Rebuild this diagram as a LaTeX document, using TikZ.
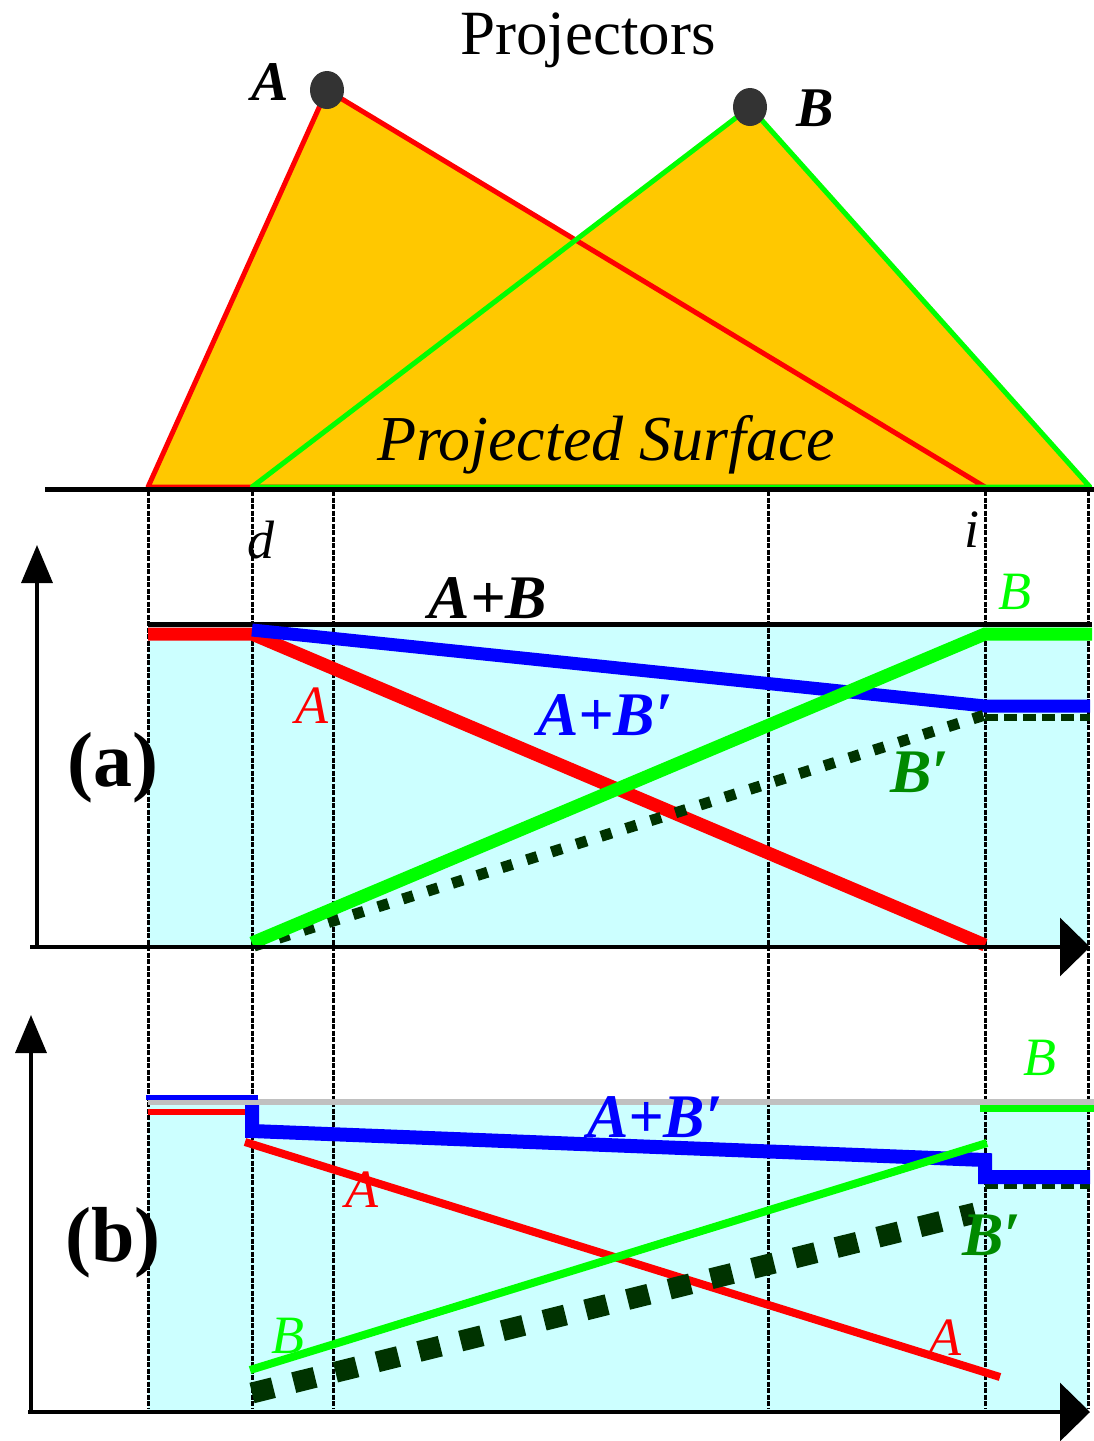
\documentclass[tikz,border=0pt]{standalone}
\usepackage{fontspec}
\setmainfont{Liberation Serif}
\usepackage{tikz}
\usetikzlibrary{arrows.meta,calc}
\definecolor{surforange}{HTML}{FFC800}
\definecolor{lightcyan}{HTML}{CCFFFF}
\definecolor{pgreen}{HTML}{00FF00}
\definecolor{dkgreen}{HTML}{003300}
\definecolor{lblgreen}{HTML}{008A00}
\definecolor{dotgray}{HTML}{333333}
\definecolor{sumgray}{HTML}{C0C0C0}
\newcommand{\fs}[1]{\fontsize{#1}{#1}\selectfont}

\begin{document}
\begin{tikzpicture}[
  x=1pt,y=-1pt,
  lbl/.style={inner sep=0pt,font=\fs{54}\itshape},
  blbl/.style={inner sep=0pt,font=\fs{62}\bfseries\itshape},
  vline/.style={black,line width=3pt,dash pattern=on 5pt off 1.5pt},
  yaxis/.style={line width=3.5pt,-{Triangle[length=38pt,width=31pt]}},
  xaxis/.style={line width=3.5pt,-{Triangle[length=30pt,width=58pt]}},
  edgeA/.style={red,line width=5pt,line join=round},
  edgeB/.style={pgreen,line width=5pt,line join=round},
  dotsA/.style={dkgreen,line width=11pt,dash pattern=on 11pt off 15pt},
  dotsB/.style={dkgreen,line width=21pt,dash pattern=on 22pt off 21pt},
  tail/.style={dkgreen,line width=7pt,dash pattern=on 13pt off 6pt}
]
\useasboundingbox (0,0) rectangle (1094,1441);
% projectors and the surface
\coordinate (pA) at (327,90);
\coordinate (pB) at (750,107);
\coordinate (aL) at (148,487);
\coordinate (aR) at (985,487);
\coordinate (bL) at (252,487);
\coordinate (bR) at (1090,487);
\fill[surforange] (pA)--(aL)--(aR)--cycle;
\fill[surforange] (pB)--(bL)--(bR)--cycle;
\draw[edgeA] (pA)--(aL)--(aR)--cycle;
\draw[edgeB] (pB)--(bL)--(bR)--cycle;
\draw[line width=5pt] (45,489)--(1094,489);
\fill[dotgray] (pA) ellipse (17pt and 19pt);
\fill[dotgray] (pB) ellipse (17pt and 19pt);
\node[inner sep=0pt,font=\fs{63}] (title) at (588,40) {Projectors};
\node[blbl,font=\fs{56}\bfseries\itshape] (nameA) at (270,82) {A};
\node[blbl,font=\fs{56}\bfseries\itshape] (nameB) at (815,108) {B};
\node[lbl,font=\fs{64}\itshape] (surf) at (606,445) {Projected Surface};

% panel backgrounds
\fill[lightcyan] (148,626) rectangle (1088,945);
\fill[lightcyan] (148,1104) rectangle (1088,1411);

% guide lines
\foreach \gx in {148,252,333,768,985,1088}
  \draw[vline] (\gx,491)--(\gx,1408);
\node[lbl] (d) at (261,540) {d};
\node[lbl] (i) at (972,530) {i};

% panel (a)
\draw[line width=5pt] (148,624)--(1092,624);
\draw[red,line width=13pt] (148,634)--(252,634)--(985,945);
\draw[blue,line width=13pt] (252,630)--(985,706)--(1090,706);
\draw[tail] (985,717)--(1090,717);
\draw[dotsA] (254,946)--(985,715);
\draw[pgreen,line width=13pt] (252,943)--(985,634)--(1092,634);
\draw[yaxis] (37,947)--(37,545);
\draw[xaxis] (30,947)--(1090,947);
\node[blbl] (sumA) at (488,598) {A+B};
\node[lbl,pgreen] (lB1) at (1015,592) {B};
\node[lbl,red] (lA1) at (312,706) {A};
\node[blbl,blue] (lAB1) at (605,715) {A+B\char"2032};
\node[blbl,lblgreen] (lBp1) at (920,772) {B\char"2032};
\node[inner sep=0pt,font=\fs{78}\bfseries] (pa) at (113,768) {(a)};

% panel (b)
\draw[sumgray,line width=6pt] (148,1102)--(1094,1102);
\draw[blue,line width=5pt] (146,1097)--(258,1097);
\draw[red,line width=6pt] (148,1112)--(245,1112);
\draw[red,line width=8pt] (245,1142)--(1000,1377);
\draw[tail] (985,1185)--(1090,1185);
\draw[blue,line width=14pt,line join=miter] (252,1105)--(252,1131)--(985,1160)--(985,1177)--(1090,1177);
\draw[dotsB] (252,1393)--(975,1213);
\draw[pgreen,line width=8pt] (250,1370)--(987,1143);
\draw[pgreen,line width=7pt] (980,1108)--(1094,1108);
\draw[yaxis] (31,1414)--(31,1015);
\draw[xaxis] (28,1412)--(1090,1412);
\node[lbl,pgreen] (lB2) at (1040,1058) {B};
\node[blbl,blue] (lAB2) at (655,1117) {A+B\char"2032};
\node[lbl,red] (lA2) at (362,1190) {A};
\node[blbl,lblgreen] (lBp2) at (992,1235) {B\char"2032};
\node[lbl,red] (lA3) at (945,1338) {A};
\node[lbl,pgreen] (lB3) at (288,1336) {B};
\node[inner sep=0pt,font=\fs{78}\bfseries] (pb) at (113,1243) {(b)};
\end{tikzpicture}
\end{document}
